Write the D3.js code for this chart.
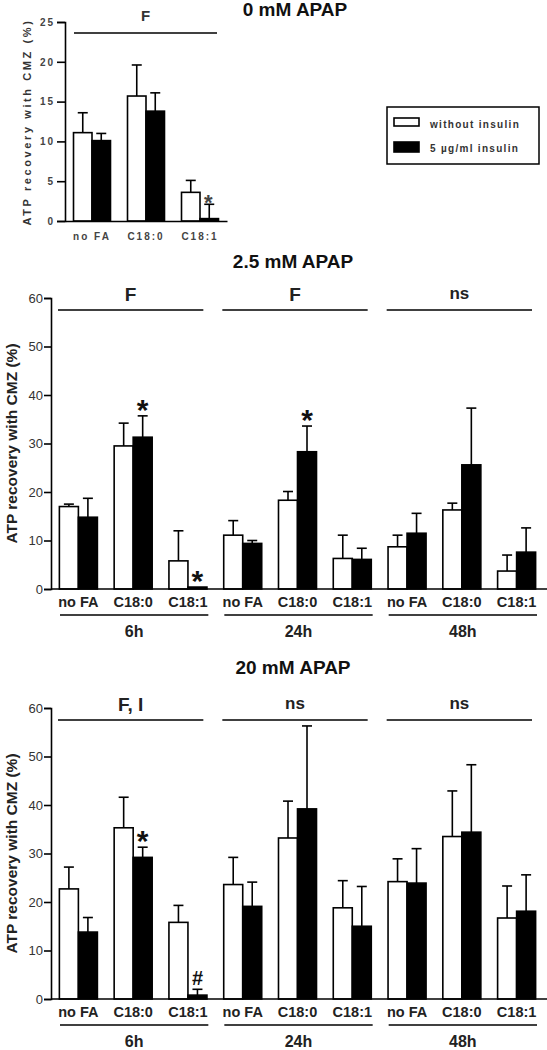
<!DOCTYPE html>
<html><head><meta charset="utf-8">
<script src="https://cdn.jsdelivr.net/npm/d3@7"></script>
<style>body{margin:0;background:#fff}svg{display:block}text{font-family:"Liberation Sans",Arial,sans-serif}</style>
</head><body><svg id="c" width="547" height="1050"></svg>
<script>
// ---------- data ----------
const seriesNames = ["without insulin", "5 µg/ml insulin"];
const fattyAcids = ["no FA", "C18:0", "C18:1"];
const times = ["6h", "24h", "48h"];
const yTicks0 = [0, 5, 10, 15, 20, 25];
const yTicks = [0, 10, 20, 30, 40, 50, 60];
const yLabel = "ATP recovery with CMZ (%)";

// 0 mM APAP (per fatty acid)
const apap0Without = [11.1, 15.7, 3.6];
const apap0WithoutSem = [2.5, 3.9, 1.5];
const apap0Insulin = [10.1, 13.8, 0.3];
const apap0InsulinSem = [0.9, 2.3, 1.8];
const apap0Sig = ["F"];
const apap0Marks = [{ fa: "C18:1", s: 1, mark: "*" }];

// 2.5 mM APAP (6h: noFA, C18:0, C18:1 | 24h ... | 48h ...)
const apap25Without = [17.0, 29.5, 5.8, 11.1, 18.3, 6.3, 8.7, 16.3, 3.7];
const apap25WithoutSem = [0.5, 4.7, 6.2, 3.0, 1.8, 4.8, 2.4, 1.4, 3.3];
const apap25Insulin = [14.8, 31.3, 0.4, 9.4, 28.3, 6.1, 11.5, 25.6, 7.6];
const apap25InsulinSem = [3.9, 4.4, 0.0, 0.6, 5.3, 2.3, 4.1, 11.7, 5.0];
const apap25Sig = ["F", "F", "ns"];
const apap25Marks = [
  { t: "6h", fa: "C18:0", s: 1, mark: "*" },
  { t: "6h", fa: "C18:1", s: 1, mark: "*" },
  { t: "24h", fa: "C18:0", s: 1, mark: "*" }
];

// 20 mM APAP
const apap20Without = [22.7, 35.3, 15.8, 23.6, 33.2, 18.8, 24.2, 33.5, 16.7];
const apap20WithoutSem = [4.5, 6.3, 3.5, 5.6, 7.6, 5.6, 4.7, 9.4, 6.6];
const apap20Insulin = [13.8, 29.2, 0.8, 19.1, 39.2, 15.0, 23.9, 34.4, 18.1];
const apap20InsulinSem = [3.0, 2.1, 1.2, 5.0, 17.1, 8.2, 7.1, 13.9, 7.5];
const apap20Sig = ["F, I", "ns", "ns"];
const apap20Marks = [
  { t: "6h", fa: "C18:0", s: 1, mark: "*" },
  { t: "6h", fa: "C18:1", s: 1, mark: "#" }
];

// ---------- drawing ----------
const svg = d3.select("#c");
const FILLS = ["#fff", "#000"];

function drawBars(g, rows, x, xs, y) {
  rows.forEach(r => {
    const bx = x(r.key) + xs(r.s);
    const bw = xs.bandwidth();
    g.append("rect")
      .attr("x", bx).attr("y", y(r.v))
      .attr("width", bw).attr("height", Math.max(0, y(0) - y(r.v)))
      .attr("fill", FILLS[r.s]).attr("stroke", "#000").attr("stroke-width", 1.6);
    if (r.e > 0) {
      const cx = bx + bw / 2;
      g.append("line").attr("x1", cx).attr("x2", cx)
        .attr("y1", y(r.v)).attr("y2", y(r.v + r.e))
        .attr("stroke", "#000").attr("stroke-width", 1.6);
      g.append("line").attr("x1", cx - 5).attr("x2", cx + 5)
        .attr("y1", y(r.v + r.e)).attr("y2", y(r.v + r.e))
        .attr("stroke", "#000").attr("stroke-width", 1.6);
    }
  });
}

// ---- panel 0 mM ----
(function () {
  const g = svg.append("g");
  const x = d3.scaleBand().domain(fattyAcids).range([65, 227]).paddingInner(0.315).paddingOuter(0.1575);
  const xs = d3.scaleBand().domain([0, 1]).range([0, x.bandwidth()]);
  const y = d3.scaleLinear().domain([0, 25]).range([221, 22]);
  const rows = [];
  fattyAcids.forEach((f, i) => {
    rows.push({ key: f, s: 0, v: apap0Without[i], e: apap0WithoutSem[i] });
    rows.push({ key: f, s: 1, v: apap0Insulin[i], e: apap0InsulinSem[i] });
  });
  drawBars(g, rows, x, xs, y);

  const ya = g.append("g").attr("transform", "translate(65,0)")
    .call(d3.axisLeft(y).tickValues(yTicks0).tickSizeOuter(0).tickSize(8).tickPadding(2));
  ya.select(".domain").attr("stroke-width", 1.6);
  ya.selectAll(".tick line").attr("stroke-width", 1.6);
  ya.selectAll("text").attr("font-size", 10).attr("font-weight", "bold").attr("fill", "#444")
    .attr("letter-spacing", 2).style("font-family", "'Liberation Sans',Arial,sans-serif");

  const xa = g.append("g").attr("transform", "translate(0,221)")
    .call(d3.axisBottom(x).tickSize(0).tickSizeOuter(0).tickPadding(12));
  xa.select(".domain").attr("stroke-width", 1.6);
  xa.selectAll("text").attr("font-size", 10).attr("font-weight", "bold").attr("fill", "#444")
    .attr("letter-spacing", 2).style("font-family", "'Liberation Sans',Arial,sans-serif");

  g.append("text").attr("transform", "translate(31,122) rotate(-90)")
    .attr("text-anchor", "middle").attr("font-size", 11).attr("font-weight", "bold")
    .attr("letter-spacing", 2.6).attr("fill", "#333").text(yLabel);

  g.append("line").attr("x1", 74).attr("x2", 217).attr("y1", 33).attr("y2", 33)
    .attr("stroke", "#000").attr("stroke-width", 1.6);
  g.append("text").attr("x", 145.5).attr("y", 21).attr("text-anchor", "middle")
    .attr("font-size", 15).attr("font-weight", "bold").attr("fill", "#333").text(apap0Sig[0]);

  apap0Marks.forEach(m => {
    const i = fattyAcids.indexOf(m.fa);
    const v = m.s ? apap0Insulin[i] + apap0InsulinSem[i] : apap0Without[i] + apap0WithoutSem[i];
    const cx = x(m.fa) + xs(m.s) + xs.bandwidth() / 2;
    g.append("text").attr("x", cx - 1).attr("y", y(v) + 6).attr("text-anchor", "middle")
      .attr("font-size", 22).attr("font-weight", "bold").attr("fill", "#444").text(m.mark);
  });

  g.append("text").attr("x", 295).attr("y", 16).attr("text-anchor", "middle")
    .attr("font-size", 19).attr("font-weight", "bold").attr("fill", "#111").text("0 mM APAP");

  // legend
  const lg = svg.append("g");
  lg.append("rect").attr("x", 387).attr("y", 107).attr("width", 152).attr("height", 57)
    .attr("fill", "#fff").attr("stroke", "#000").attr("stroke-width", 1.5);
  seriesNames.forEach((s, i) => {
    lg.append("rect").attr("x", 394).attr("y", i ? 142 : 118).attr("width", 25).attr("height", i ? 10 : 8)
      .attr("fill", FILLS[i]).attr("stroke", "#000").attr("stroke-width", 1.6);
    lg.append("text").attr("x", 430).attr("y", i ? 152 : 128).attr("font-size", 10)
      .attr("font-weight", "bold").attr("letter-spacing", 1.3).attr("fill", "#333").text(s);
  });
})();

// ---- time panels ----
function timePanel(opts) {
  const { y0, title, titleY, without, withoutSem, insulin, insulinSem, sig, marks } = opts;
  const g = svg.append("g");
  const keys = times.flatMap(t => fattyAcids.map(f => t + "|" + f));
  const x = d3.scaleBand().domain(keys).range([51, 544]).paddingInner(0.306).paddingOuter(0.153);
  const xs = d3.scaleBand().domain([0, 1]).range([0, x.bandwidth()]);
  const y = d3.scaleLinear().domain([0, 60]).range([y0, y0 - 291]);
  const rows = [];
  keys.forEach((k, i) => {
    rows.push({ key: k, s: 0, v: without[i], e: withoutSem[i] });
    rows.push({ key: k, s: 1, v: insulin[i], e: insulinSem[i] });
  });
  drawBars(g, rows, x, xs, y);

  const ya = g.append("g").attr("transform", "translate(51,0)")
    .call(d3.axisLeft(y).tickValues(yTicks).tickSizeOuter(0).tickSize(7).tickPadding(1));
  ya.select(".domain").attr("stroke-width", 1.6);
  ya.selectAll(".tick line").attr("stroke-width", 1.6);
  ya.selectAll("text").attr("font-size", 13).attr("fill", "#333")
    .style("font-family", "'Liberation Sans',Arial,sans-serif");

  const xa = g.append("g").attr("transform", `translate(0,${y0})`)
    .call(d3.axisBottom(x).tickSize(0).tickSizeOuter(0).tickPadding(8).tickFormat(k => k.split("|")[1]));
  xa.select(".domain").attr("stroke-width", 1.6).attr("d", `M51,0H547`);
  xa.selectAll("text").attr("font-size", 14.5).attr("font-weight", "bold").attr("fill", "#222")
    .style("font-family", "'Liberation Sans',Arial,sans-serif");

  const step = x.step();
  times.forEach((t, j) => {
    const gs = x(t + "|" + fattyAcids[0]) - step * 0.153;
    const ge = gs + step * 3;
    g.append("line").attr("x1", gs + 7).attr("x2", ge - 12).attr("y1", y(60) + 12).attr("y2", y(60) + 12)
      .attr("stroke", "#000").attr("stroke-width", 1.6);
    g.append("text").attr("x", (gs + ge - 5) / 2).attr("y", y(60) + (sig[j] === "ns" ? 1 : 3))
      .attr("text-anchor", "middle").attr("font-size", sig[j] === "ns" ? 17 : 19)
      .attr("font-weight", "bold").attr("fill", "#222").text(sig[j]);
    g.append("line").attr("x1", gs + 9).attr("x2", ge - 7).attr("y1", y0 + 26).attr("y2", y0 + 26)
      .attr("stroke", "#000").attr("stroke-width", 1.6);
    g.append("text").attr("x", (gs + ge + 2) / 2).attr("y", y0 + 48).attr("text-anchor", "middle")
      .attr("font-size", 16).attr("font-weight", "bold").attr("fill", "#222").text(t);
  });

  marks.forEach(m => {
    const i = keys.indexOf(m.t + "|" + m.fa);
    const v = m.s ? insulin[i] + insulinSem[i] : without[i] + withoutSem[i];
    const cx = x(m.t + "|" + m.fa) + xs(m.s) + xs.bandwidth() / 2;
    if (m.mark === "*") {
      g.append("text").attr("x", cx).attr("y", y(v) + 4).attr("text-anchor", "middle")
        .attr("font-size", 30).attr("font-weight", "bold").attr("fill", "#111").text(m.mark);
    } else {
      g.append("text").attr("x", cx).attr("y", y(v) - 4).attr("text-anchor", "middle")
        .attr("font-size", 20).attr("font-weight", "bold").attr("fill", "#111").text(m.mark);
    }
  });

  g.append("text").attr("transform", `translate(17,${(y0 + y0 - 291) / 2}) rotate(-90)`)
    .attr("text-anchor", "middle").attr("font-size", 15.5).attr("font-weight", "bold")
    .attr("fill", "#222").text(yLabel);

  g.append("text").attr("x", 293).attr("y", titleY).attr("text-anchor", "middle")
    .attr("font-size", 19).attr("font-weight", "bold").attr("fill", "#111").text(title);
}

timePanel({ y0: 589, title: "2.5 mM APAP", titleY: 268,
  without: apap25Without, withoutSem: apap25WithoutSem, insulin: apap25Insulin, insulinSem: apap25InsulinSem,
  sig: apap25Sig, marks: apap25Marks });
timePanel({ y0: 999, title: "20 mM APAP", titleY: 674,
  without: apap20Without, withoutSem: apap20WithoutSem, insulin: apap20Insulin, insulinSem: apap20InsulinSem,
  sig: apap20Sig, marks: apap20Marks });
</script></body></html>
